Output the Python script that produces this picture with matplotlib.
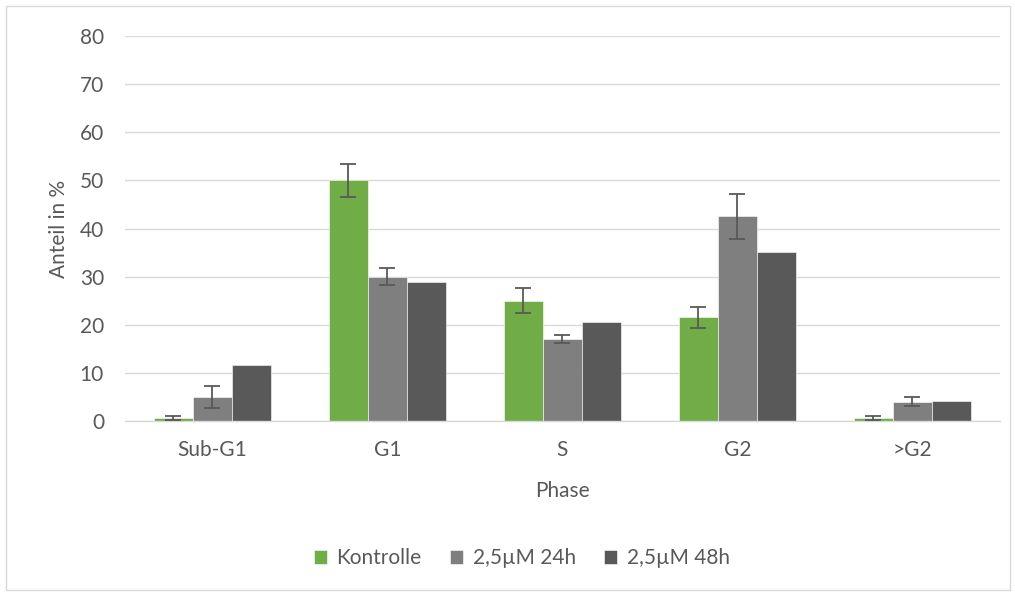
import numpy as np
import matplotlib
matplotlib.use("Agg")
import matplotlib.pyplot as plt
from matplotlib.patches import Rectangle

plt.rcParams['font.family'] = ['Lato', 'DejaVu Sans']

# Cell-cycle phase distribution
phases = ["Sub-G1", "G1", "S", "G2", ">G2"]
series_names = ["Kontrolle", "2,5µM 24h", "2,5µM 48h"]
kontrolle = [0.6, 50.0, 25.0, 21.5, 0.6]
kontrolle_err = [0.5, 3.5, 2.6, 2.1, 0.4]
treat_24h = [5.0, 30.0, 17.1, 42.5, 4.0]
treat_24h_err = [2.3, 1.7, 0.8, 4.7, 1.0]
treat_48h = [11.7, 28.9, 20.6, 35.2, 4.2]
yticks = [0, 10, 20, 30, 40, 50, 60, 70, 80]

colors = ["#70AD47", "#7F7F7F", "#595959"]
text_col = "#595959"
grid_col = "#D9D9D9"
fs = 15

fig = plt.figure(figsize=(10.15, 5.92), dpi=100)
ax = fig.add_axes([0.123, 0.289, 0.862, 0.650])

x = np.arange(len(phases))
w = 0.222
values = [kontrolle, treat_24h, treat_48h]
errors = [kontrolle_err, treat_24h_err, None]
for i, (vals, errs, c, name) in enumerate(zip(values, errors, colors, series_names)):
    pos = x + (i - 1) * w
    ax.bar(pos, vals, width=w, color=c, edgecolor="white", linewidth=0.4,
           label=name, zorder=2)
    if errs is not None:
        ax.errorbar(pos, vals, yerr=errs, fmt="none", ecolor="#595959",
                    elinewidth=1.3, capsize=5.5, capthick=1.3, zorder=3)

ax.set_xlim(-0.5, len(phases) - 0.5)
ax.set_ylim(0, 80)
ax.set_yticks(yticks)
ax.set_xticks(x)
ax.set_xticklabels(phases)
ax.yaxis.grid(True, color=grid_col, linewidth=1.0, zorder=0)
ax.set_axisbelow(True)
for side in ["top", "right", "left"]:
    ax.spines[side].set_visible(False)
ax.spines["bottom"].set_color(grid_col)
ax.spines["bottom"].set_linewidth(1.0)
ax.tick_params(axis="both", length=0, labelsize=fs, colors=text_col)
ax.tick_params(axis="x", pad=14)
ax.tick_params(axis="y", pad=15)

ax.set_xlabel("Phase", fontsize=fs, color=text_col, labelpad=15)
ax.set_ylabel("Anteil in %", fontsize=fs, color=text_col, labelpad=8)

leg = fig.legend(loc="center", bbox_to_anchor=(0.514, 0.057), ncol=3,
                 frameon=False, fontsize=fs, handlelength=0.65,
                 handleheight=0.65, handletextpad=0.45, columnspacing=1.35)
for t in leg.get_texts():
    t.set_color(text_col)

# Chart border
fig.patches.append(Rectangle((0.006, 0.004), 0.989, 0.986, transform=fig.transFigure,
                             fill=False, edgecolor=grid_col, linewidth=1.0))

fig.savefig("out.png", dpi=100)
